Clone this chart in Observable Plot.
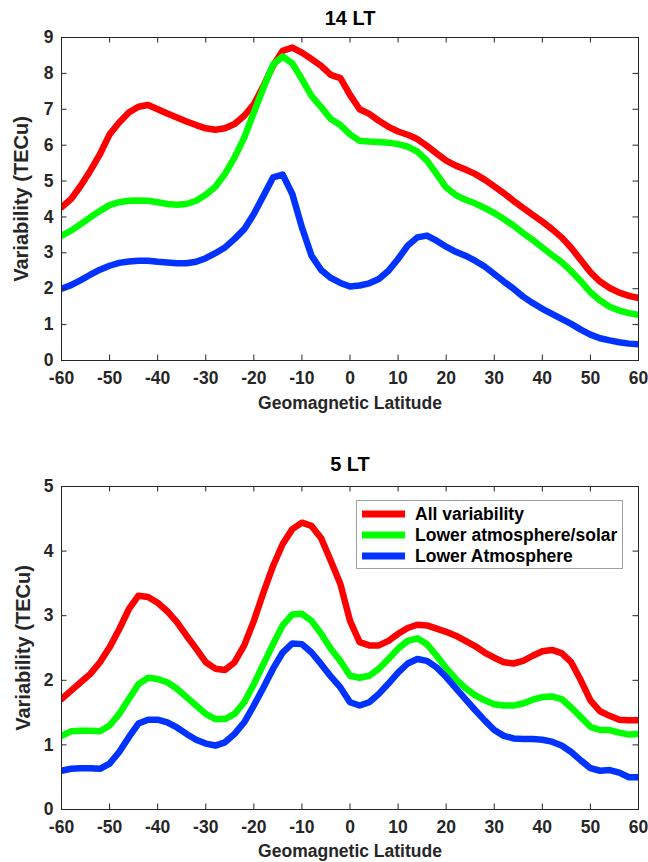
<!DOCTYPE html>
<html><head><meta charset="utf-8">
<script src="https://cdn.jsdelivr.net/npm/d3@7"></script>
<script src="https://cdn.jsdelivr.net/npm/@observablehq/plot@0.6"></script>
<style>body{margin:0;background:#fff} #chart svg{display:block}</style>
</head><body><div id="chart"></div>
<script>
const latitude = [-60,-58,-56,-54,-52,-50,-48,-46,-44,-42,-40,-38,-36,-34,-32,-30,-28,-26,-24,-22,-20,-18,-16,-14,-12,-10,-8,-6,-4,-2,0,2,4,6,8,10,12,14,16,18,20,22,24,26,28,30,32,34,36,38,40,42,44,46,48,50,52,54,56,58,60];
const xTicks = [-60,-50,-40,-30,-20,-10,0,10,20,30,40,50,60];
const topYTicks = [0,1,2,3,4,5,6,7,8,9];
const bottomYTicks = [0,1,2,3,4,5];
const seriesNames = ["All variability","Lower atmosphere/solar","Lower Atmosphere"];
const seriesColors = ["#ff0000","#00ff00","#0033ff"];

// 14 LT
const lt14All = [4.27,4.5,4.87,5.29,5.75,6.3,6.63,6.91,7.07,7.12, 7.0,6.88,6.77,6.66,6.56,6.47,6.43,6.47,6.59,6.82, 7.14,7.65,8.21,8.63,8.72,8.58,8.4,8.21,7.96,7.87, 7.4,7.0,6.87,6.68,6.51,6.38,6.29,6.17,5.98,5.77, 5.57,5.43,5.32,5.2,5.04,4.85,4.66,4.45,4.25,4.06, 3.87,3.66,3.43,3.14,2.8,2.46,2.2,2.02,1.89,1.8, 1.74];
const lt14Solar = [3.48,3.62,3.8,3.99,4.17,4.33,4.41,4.45,4.46,4.45, 4.41,4.36,4.34,4.36,4.45,4.62,4.84,5.2,5.66,6.21, 6.91,7.6,8.25,8.47,8.28,7.84,7.37,7.06,6.73,6.56, 6.3,6.12,6.1,6.09,6.07,6.03,5.96,5.82,5.57,5.2, 4.82,4.61,4.48,4.38,4.25,4.11,3.94,3.76,3.55,3.36, 3.15,2.94,2.74,2.49,2.21,1.9,1.67,1.5,1.39,1.32, 1.27];
const lt14Lower = [2.0,2.1,2.24,2.39,2.53,2.64,2.72,2.76,2.78,2.78, 2.75,2.73,2.71,2.71,2.75,2.85,2.99,3.15,3.39,3.66, 4.08,4.59,5.1,5.18,4.64,3.71,2.92,2.52,2.3,2.16, 2.06,2.09,2.15,2.27,2.5,2.83,3.2,3.43,3.48,3.34, 3.17,3.03,2.92,2.78,2.62,2.41,2.2,2.0,1.78,1.6, 1.44,1.3,1.16,1.02,0.86,0.72,0.62,0.56,0.51,0.47, 0.45];

// 5 LT
const lt5All = [1.71,1.84,1.97,2.1,2.28,2.51,2.79,3.1,3.31,3.29, 3.2,3.07,2.9,2.69,2.49,2.28,2.18,2.16,2.28,2.54, 2.92,3.36,3.77,4.11,4.34,4.44,4.39,4.2,3.85,3.49, 2.92,2.59,2.54,2.54,2.61,2.72,2.81,2.86,2.85,2.8, 2.75,2.69,2.61,2.53,2.43,2.35,2.28,2.26,2.3,2.38, 2.45,2.47,2.42,2.28,2.0,1.69,1.52,1.45,1.39,1.38, 1.38];
const lt5Solar = [1.14,1.21,1.22,1.22,1.21,1.3,1.48,1.71,1.94,2.04, 2.02,1.97,1.87,1.74,1.61,1.48,1.4,1.4,1.48,1.66, 1.94,2.25,2.56,2.85,3.02,3.03,2.92,2.72,2.49,2.3, 2.07,2.04,2.07,2.18,2.33,2.49,2.61,2.65,2.56,2.38, 2.19,2.02,1.88,1.77,1.69,1.63,1.61,1.61,1.64,1.7, 1.74,1.75,1.71,1.58,1.43,1.28,1.23,1.23,1.19,1.16, 1.17];
const lt5Lower = [0.6,0.63,0.64,0.64,0.63,0.71,0.89,1.12,1.33,1.39, 1.39,1.35,1.27,1.17,1.08,1.02,0.99,1.04,1.17,1.35, 1.61,1.89,2.18,2.43,2.57,2.56,2.43,2.25,2.06,1.89, 1.66,1.61,1.66,1.79,1.95,2.12,2.26,2.33,2.3,2.2, 2.05,1.88,1.71,1.54,1.38,1.23,1.14,1.1,1.09,1.09, 1.08,1.05,0.99,0.89,0.76,0.64,0.6,0.61,0.57,0.5, 0.5];

const FONT = "'Liberation Sans', Arial, Helvetica, sans-serif";
const AXIS = "#262626";
const fmt = d => String(d);

function panel({title, series, yMax, yTicks, height, marginTop, marginBottom, titleY, xlabelY, ylabelX}) {
  const rows = [];
  series.forEach((arr, si) => arr.forEach((v, i) => rows.push({lat: latitude[i], v, s: seriesNames[si]})));
  const W = 648, mL = 61, mR = 10;
  const plotW = W - mL - mR, plotH = height - marginTop - marginBottom;
  const tk = 5.5;
  return Plot.plot({
    width: W, height, marginLeft: mL, marginRight: mR, marginTop, marginBottom,
    style: {fontFamily: FONT, fontWeight: "bold", color: AXIS, background: "white", overflow: "visible"},
    x: {domain: [-60, 60]},
    y: {domain: [0, yMax]},
    color: {domain: seriesNames, range: seriesColors},
    marks: [
      Plot.line(rows, {x: "lat", y: "v", z: "s", stroke: "s", strokeWidth: 6.5, strokeLinejoin: "round", clip: true}),
      Plot.tickX(xTicks, {x: d => d, insetTop: plotH - tk, stroke: AXIS}),
      Plot.tickX(xTicks, {x: d => d, insetBottom: plotH - tk, stroke: AXIS}),
      Plot.tickY(yTicks, {y: d => d, insetRight: plotW - tk, stroke: AXIS}),
      Plot.tickY(yTicks, {y: d => d, insetLeft: plotW - tk, stroke: AXIS}),
      Plot.axisX({ticks: xTicks, tickFormat: fmt, tickSize: 0, tickPadding: 11, fontSize: 17.5, label: null}),
      Plot.axisY({ticks: yTicks, tickFormat: fmt, tickSize: 0, tickPadding: 8, fontSize: 17.5, label: null}),
      Plot.frame({stroke: AXIS}),
      Plot.text([title], {frameAnchor: "top", dy: titleY - marginTop, fontSize: 20, fill: "black", lineAnchor: "middle"}),
      Plot.text(["Geomagnetic Latitude"], {frameAnchor: "bottom", dy: xlabelY, fontSize: 17.5, lineAnchor: "middle"}),
      Plot.text(["Variability (TECu)"], {frameAnchor: "left", dx: ylabelX - mL, rotate: -90, textAnchor: "middle", fontSize: 20, lineAnchor: "middle"})
    ]
  });
}

const chartDiv = document.getElementById("chart");
const topPanel = panel({title: "14 LT", series: [lt14All, lt14Solar, lt14Lower], yMax: 9, yTicks: topYTicks,
  height: 430, marginTop: 37, marginBottom: 70, titleY: 18, xlabelY: 43, ylabelX: 21});
const bottomPanel = panel({title: "5 LT", series: [lt5All, lt5Solar, lt5Lower], yMax: 5, yTicks: bottomYTicks,
  height: 432, marginTop: 56, marginBottom: 53, titleY: 34, xlabelY: 42, ylabelX: 23});
chartDiv.appendChild(topPanel);
chartDiv.appendChild(bottomPanel);

// legend (inside the 5 LT axes, upper right)
const lsvg = d3.select(bottomPanel);
const lg = lsvg.append("g").attr("font-family", FONT).attr("font-weight", "bold").attr("font-size", 17.5)
  .attr("text-anchor", "start");
lg.append("rect").attr("x", 356.5).attr("y", 70.5).attr("width", 266).attr("height", 68)
  .attr("fill", "white").attr("stroke", "#a0a0a0").attr("stroke-width", 1);
seriesNames.forEach((name, i) => {
  const yy = 84 + i * 21;
  lg.append("line").attr("x1", 362).attr("x2", 405).attr("y1", yy).attr("y2", yy)
    .attr("stroke", seriesColors[i]).attr("stroke-width", 7);
  lg.append("text").attr("x", 415).attr("y", yy).attr("dy", "0.35em").attr("text-anchor", "start")
    .attr("fill", "black").text(name);
});
</script>
</body></html>
